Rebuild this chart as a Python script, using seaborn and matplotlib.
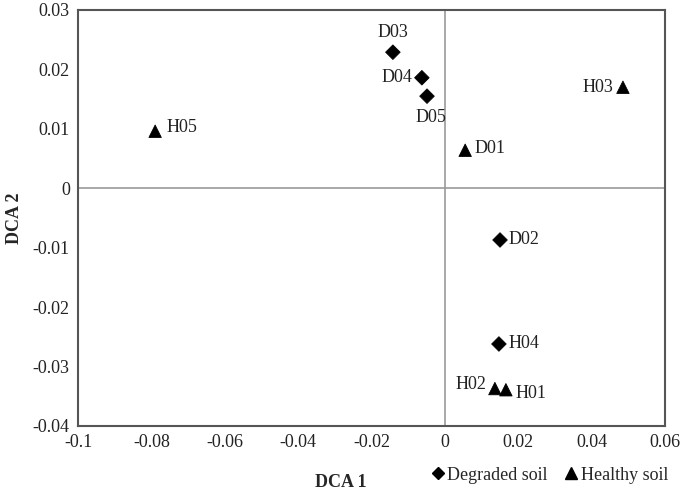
import matplotlib
matplotlib.use("Agg")
import matplotlib.pyplot as plt
import pandas as pd
import seaborn as sns

# DCA ordination scores
samples = ["D03", "D04", "D05", "D01", "D02", "H04", "H02", "H01", "H03", "H05"]
dca1 = [-0.0142, -0.0063, -0.0049, 0.0055, 0.0150, 0.0147, 0.0136, 0.0166, 0.0485, -0.0790]
dca2 = [0.0229, 0.0186, 0.0155, 0.0064, -0.0087, -0.0262, -0.0337, -0.0339, 0.0170, 0.0096]
soil = ["Degraded soil", "Degraded soil", "Degraded soil", "Healthy soil", "Degraded soil",
        "Degraded soil", "Healthy soil", "Healthy soil", "Healthy soil", "Healthy soil"]

x_ticks = [-0.1, -0.08, -0.06, -0.04, -0.02, 0, 0.02, 0.04, 0.06]
y_ticks = [-0.04, -0.03, -0.02, -0.01, 0, 0.01, 0.02, 0.03]

# label placement: (dx pts, dy pts, ha, va)
LABEL_POS = {
    "D03": (0, 8, "center", "bottom"),
    "D04": (-7, 0, "right", "center"),
    "D05": (3, -9, "center", "top"),
    "D01": (7, 1, "left", "center"),
    "D02": (6, 0, "left", "center"),
    "H04": (7, 0, "left", "center"),
    "H02": (-6, 3, "right", "center"),
    "H01": (7, -3, "left", "center"),
    "H03": (-7, 0, "right", "center"),
    "H05": (8, 3, "left", "center"),
}

df = pd.DataFrame({"sample": samples, "DCA1": dca1, "DCA2": dca2, "soil": soil})

sns.set_theme(style="white")
plt.rcParams["font.family"] = ["Liberation Serif", "DejaVu Serif"]

fig, ax = plt.subplots(figsize=(6.85, 5), dpi=100)
fig.subplots_adjust(left=0.114, right=0.971, top=0.98, bottom=0.148)

ax.axvline(0, color="#999999", lw=1.2, zorder=0)
ax.axhline(0, color="#999999", lw=1.2, zorder=0)

sns.scatterplot(data=df, x="DCA1", y="DCA2", style="soil", size="soil",
                markers={"Degraded soil": "D", "Healthy soil": "^"},
                sizes={"Degraded soil": 55, "Healthy soil": 80},
                style_order=["Degraded soil", "Healthy soil"],
                color="black", edgecolor="black", ax=ax, legend=False,
                zorder=3)

for s, x, y in zip(samples, dca1, dca2):
    dx, dy, ha, va = LABEL_POS[s]
    ax.annotate(s, (x, y), xytext=(dx, dy), textcoords="offset points",
                ha=ha, va=va, fontsize=13, color="#222222")

ax.set_xlim(-0.1, 0.06)
ax.set_ylim(-0.04, 0.03)
ax.set_xticks(x_ticks)
ax.set_yticks(y_ticks)
ax.set_xticklabels([f"{t:g}" for t in x_ticks])
ax.set_yticklabels([f"{t:g}" for t in y_ticks])
ax.tick_params(labelsize=13, colors="#222222", length=0, pad=6)
for sp in ax.spines.values():
    sp.set_color("#555555")
    sp.set_linewidth(1.5)

ax.set_xlabel("DCA 1", fontsize=13, fontweight="bold")
ax.set_ylabel("DCA 2", fontsize=13, fontweight="bold")
ax.xaxis.set_label_coords(0.447, -0.115)
ax.yaxis.set_label_coords(-0.093, 0.5)

handles = [
    plt.Line2D([], [], marker="D", color="black", ls="", markersize=6),
    plt.Line2D([], [], marker="^", color="black", ls="", markersize=8),
]
fig.legend(handles, ["Degraded soil", "Healthy soil"], loc="lower right",
           bbox_to_anchor=(1.0, 0.0), ncol=2, frameon=False, fontsize=13,
           handletextpad=0.05, columnspacing=0.8, handlelength=1.0)

fig.savefig("out.png", dpi=100)
